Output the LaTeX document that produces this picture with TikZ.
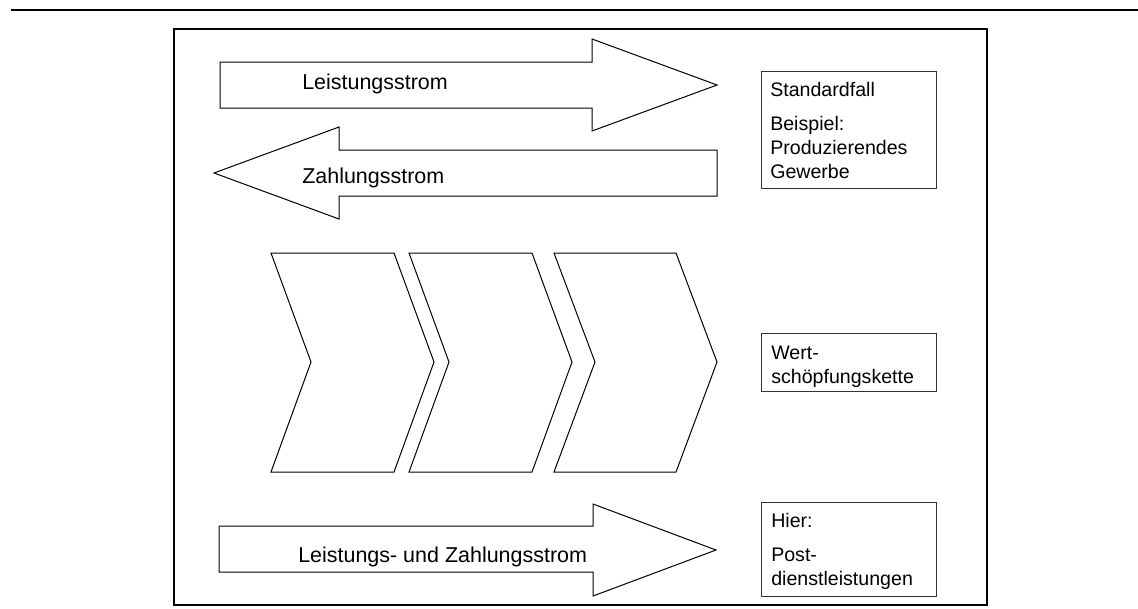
\documentclass[tikz,border=0pt]{standalone}
\usepackage{fontspec}
\setmainfont{Liberation Sans}
\begin{document}
\begin{tikzpicture}[x=0.75pt,y=-0.75pt,
  outline/.style={draw=black, line width=0.75pt, line join=miter},
  heavy/.style={draw=black, line width=1.6pt},
  infobox/.style={draw=black!80, line width=0.75pt, minimum width=131.25pt, inner sep=0pt},
  arrowtext/.style={anchor=base west, inner sep=0pt, font=\fontsize{16.1pt}{19pt}\selectfont},
  boxtext/.style={anchor=base west, inner sep=0pt, align=left, font=\fontsize{14.7pt}{18pt}\selectfont}]
\useasboundingbox (0,0) rectangle (1138,608);
% top rule and frame
\coordinate (ruleL) at (11,10);
\coordinate (ruleR) at (1138,10);
\draw[heavy] (ruleL) -- (ruleR);
\draw[heavy] (174,29) rectangle (987,605);
% Leistungsstrom arrow
\draw[outline] (220,62) -- (592,62) -- (592,39) -- (717,85) -- (592,131) -- (592,108) -- (220,108) -- cycle;
\node[arrowtext] (ls) at (302,89) {Leistungsstrom};
% Zahlungsstrom arrow
\draw[outline] (717,150) -- (339,150) -- (339,127) -- (214,173) -- (339,219) -- (339,196) -- (717,196) -- cycle;
\node[arrowtext] (zs) at (302,183) {Zahlungsstrom};
% chevrons
\draw[outline] (271,253) -- (394,253) -- (434,362) -- (394,472) -- (271,472) -- (311,362) -- cycle;
\draw[outline] (409,253) -- (532,253) -- (572,362) -- (532,472) -- (409,472) -- (449,362) -- cycle;
\draw[outline] (554,253) -- (676,253) -- (717,362) -- (676,472) -- (554,472) -- (595,362) -- cycle;
% bottom arrow
\draw[outline] (219,526) -- (593,526) -- (593,504) -- (716,550) -- (593,596) -- (593,572) -- (219,572) -- cycle;
\node[arrowtext] (lzs) at (298,562) {Leistungs- und Zahlungsstrom};
% right boxes (text anchored at the baseline of its last line)
\node[infobox, minimum height=87.75pt] (b1) at (848.5,129.5) {};
\node[boxtext] (t1) at (770,178) {Standardfall\\[7.5pt]Beispiel:\\Produzierendes\\Gewerbe};
\node[infobox, minimum height=43.5pt] (b2) at (848.5,362) {};
\node[boxtext] (t2) at (771,383) {Wert-\\schöpfungskette};
\node[infobox, minimum height=70.5pt] (b3) at (848.5,549) {};
\node[boxtext] (t3) at (771,585) {Hier:\\[7.5pt]Post-\\dienstleistungen};
\end{tikzpicture}
\end{document}
